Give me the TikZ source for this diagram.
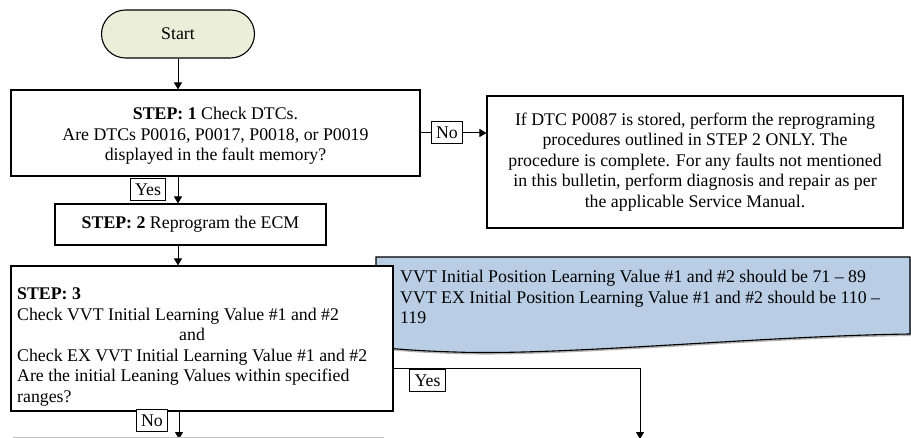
\documentclass[tikz,border=0pt]{standalone}
\usepackage{fontspec}
\setmainfont{Liberation Serif}
\usetikzlibrary{arrows.meta}
\definecolor{startfill}{HTML}{EBEFD9}
\definecolor{notefill}{HTML}{B9CDE5}
\begin{document}
\begin{tikzpicture}[x=1bp,y=-1bp,
  every node/.style={font=\fontsize{17.8bp}{20.6bp}\selectfont, inner sep=0pt},
  box/.style={draw, line width=1.1bp, fill=white},
  lbl/.style={draw, line width=1bp, fill=white, minimum height=22bp, inner xsep=5bp},
  arr/.style={line width=1bp, -{Triangle[width=8bp,length=7bp]}},
  conn/.style={line width=1bp}]
\useasboundingbox (0,0) rectangle (911,438);

% Start
\node[draw, line width=1.1bp, fill=startfill, rounded corners=24bp,
      minimum width=153bp, minimum height=48bp] (start) at (178,34) {Start};

% Step 1
\node[box, minimum width=409bp, minimum height=86bp] (step1) at (215.5,133) {};
\node[align=center] (step1text) at (215.5,136)
  {\textbf{STEP: 1} Check DTCs.\\Are DTCs P0016, P0017, P0018, or P0019\\displayed in the fault memory?};

% Info box
\node[box, minimum width=416bp, minimum height=132bp, align=center] (info) at (695,162)
  {If DTC P0087 is stored, perform the reprograming\\procedures outlined in STEP 2 ONLY. The\\procedure is complete. For any faults not mentioned\\in this bulletin, perform diagnosis and repair as per\\the applicable Service Manual.};

\draw[arr] (start.south) -- (step1.north -| start);

\node[lbl] (no1) at (447,133) {No};
\draw[conn] (step1.east) -- (no1.west);
\draw[arr] (no1.east) -- (no1.east -| info.west);

% Step 2
\node[box, minimum width=271bp, minimum height=41bp] (step2) at (190.5,224.5)
  {\textbf{STEP: 2} Reprogram the ECM};
\draw[arr] (step1.south -| start) -- (step2.north -| start);
\node[lbl] (yes1) at (148,190) {Yes};

% Blue note (document shape)
\fill[gray!60] (378,259) -- (912,259) -- (912,336) .. controls (760,338) and (560,358) .. (455,354)
  .. controls (420,353) and (395,351) .. (378,349) -- cycle;
\draw[line width=1.1bp, fill=notefill] (376,257) -- (910,257) -- (910,334)
  .. controls (760,336) and (560,356) .. (455,352)
  .. controls (420,351) and (395,349) .. (376,347) -- cycle;
\node[anchor=west, align=left] (notetext) at (400,297)
  {VVT Initial Position Learning Value \#1 and \#2 should be 71 – 89\\VVT EX Initial Position Learning Value \#1 and \#2 should be 110 –\\119};

% Step 3
\node[box, minimum width=382bp, minimum height=145bp] (step3) at (202,338.5) {};
\node[anchor=west, align=left] (step3text) at (17,347)
  {\textbf{STEP: 3}\\Check VVT Initial Learning Value \#1 and \#2\\\hspace*{162bp}and\\Check EX VVT Initial Learning Value \#1 and \#2\\Are the initial Leaning Values within specified\\ranges?};
\draw[arr] (step2.south -| start) -- (step3.north -| start);

% Yes branch from step 3
\coordinate (ybend) at (640,369);
\coordinate (yesend) at (640,439);
\draw[arr] (step3.east |- ybend) -- (ybend) -- (yesend);
\node[lbl, anchor=north] (yes2) at (427.5,369) {Yes};

% No branch from step 3
\coordinate (noend) at (179,439);
\draw[arr] (step3.south -| noend) -- (noend);
\node[lbl] (no2) at (152,420.5) {No};

% top edge of next box (cut off)
\coordinate (nextl) at (13,437);
\coordinate (nextr) at (384,437);
\draw[gray!45, line width=0.8bp] (nextl) -- (nextr);
\end{tikzpicture}
\end{document}
